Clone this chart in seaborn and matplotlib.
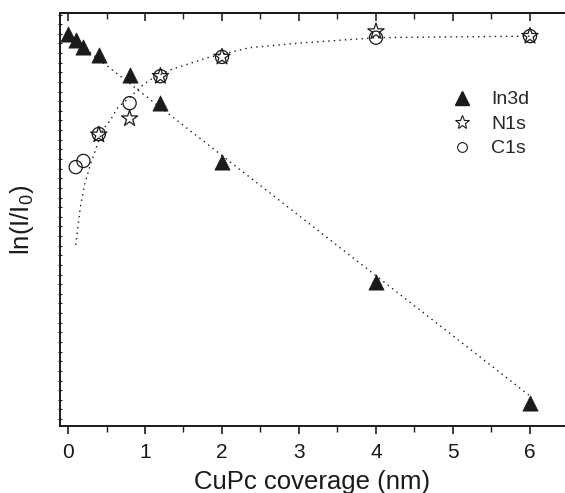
import numpy as np
import pandas as pd
import matplotlib
matplotlib.use('Agg')
import matplotlib.pyplot as plt
from matplotlib.lines import Line2D
from matplotlib.ticker import MultipleLocator, NullFormatter
import seaborn as sns

# ==========================================
# Data (arbitrary ln units)
# ==========================================
in3d_x = [0, 0.1, 0.2, 0.4, 0.8, 1.2, 2, 4, 6]
in3d_y = [0.0, -0.08, -0.17, -0.27, -0.53, -0.90, -1.66, -3.22, -4.79]

n1s_x = [0.4, 0.8, 1.2, 2, 4, 6]
n1s_y = [-1.31, -1.10, -0.55, -0.30, 0.03, -0.03]

c1s_x = [0.1, 0.2, 0.4, 0.8, 1.2, 2, 4, 6]
c1s_y = [-1.73, -1.65, -1.30, -0.90, -0.55, -0.30, -0.05, -0.03]

# dotted fit lines
in3d_fit_x = [0, 6]
in3d_fit_y = [-0.02, -4.70]

cn_fit_x = [0.10, 0.16, 0.22, 0.29, 0.38, 0.45, 0.55, 0.65, 0.81, 0.94,
            1.06, 1.32, 1.81, 2.36, 3.01, 4.01, 5.0, 6.04]
cn_fit_y = [-2.74, -2.25, -1.94, -1.70, -1.44, -1.25, -1.12, -0.95, -0.82, -0.69,
            -0.60, -0.47, -0.31, -0.18, -0.12, -0.05, -0.04, -0.03]

# ==========================================
# Style
# ==========================================
sns.set_theme(style='ticks')
plt.rcParams['font.family'] = ['Liberation Sans', 'DejaVu Sans']
plt.rcParams['mathtext.fontset'] = 'custom'
plt.rcParams['mathtext.rm'] = 'Liberation Sans'
plt.rcParams['mathtext.it'] = 'Liberation Sans:italic'

fig = plt.figure(figsize=(5.65, 4.93), dpi=100)
ax = fig.add_axes([60 / 565, 67 / 493, 1 - 60 / 565, (426 - 13) / 493])

ink = '#1a1a1a'

# fit lines
sns.lineplot(x=in3d_fit_x, y=in3d_fit_y, ax=ax, color=ink, linestyle=(0, (1, 3)),
             linewidth=1.0, sort=False)
sns.lineplot(x=cn_fit_x, y=cn_fit_y, ax=ax, color=ink, linestyle=(0, (1, 3)),
             linewidth=1.0, sort=False)

# markers
sns.scatterplot(x=c1s_x, y=c1s_y, ax=ax, marker='o', s=90, facecolor='none',
                edgecolor=ink, linewidth=0.9, zorder=3)
sns.scatterplot(x=n1s_x, y=n1s_y, ax=ax, marker='*', s=150, facecolor='none',
                edgecolor=ink, linewidth=0.9, zorder=4)
sns.scatterplot(x=in3d_x, y=in3d_y, ax=ax, marker='^', s=120, color=ink,
                edgecolor=ink, linewidth=0.5, zorder=5)

# ==========================================
# Axes
# ==========================================
ax.set_xlim(-0.104, 6.455)
ax.set_ylim(-5.09, 0.27)
ax.spines['right'].set_visible(False)
for s in ['left', 'bottom', 'top']:
    ax.spines[s].set_linewidth(1.4)
    ax.spines[s].set_color(ink)

ax.xaxis.set_major_locator(MultipleLocator(1))
ax.xaxis.set_minor_locator(MultipleLocator(0.5))
ax.tick_params(axis='x', which='major', direction='out', length=6, width=1.2,
               labelsize=15, pad=6, colors=ink)
ax.tick_params(axis='x', which='minor', direction='out', length=4, width=1.0, colors=ink)

top = ax.secondary_xaxis('top')
top.xaxis.set_major_locator(MultipleLocator(1))
top.xaxis.set_minor_locator(MultipleLocator(0.5))
top.tick_params(which='major', direction='in', length=6, width=1.2, labeltop=False)
top.tick_params(which='minor', direction='in', length=4, width=1.0)
top.spines['top'].set_linewidth(1.4)

ax.yaxis.set_major_locator(MultipleLocator(1))
ax.yaxis.set_minor_locator(MultipleLocator(0.125))
ax.yaxis.set_major_formatter(NullFormatter())
ax.tick_params(axis='y', which='both', direction='inout', length=3, width=0.8, colors=ink)

ax.set_xlabel('CuPc coverage (nm)', fontsize=18.5, color=ink, labelpad=6)
ax.set_ylabel(r'ln(I/I$_\mathrm{0}$)', fontsize=18.5, color=ink, labelpad=12)

handles = [
    Line2D([], [], marker='^', color=ink, linestyle='none', markersize=10),
    Line2D([], [], marker='*', markerfacecolor='none', markeredgecolor=ink,
           linestyle='none', markersize=10, markeredgewidth=0.8),
    Line2D([], [], marker='o', markerfacecolor='none', markeredgecolor=ink,
           linestyle='none', markersize=7, markeredgewidth=0.8),
]
ax.legend(handles, ['In3d', 'N1s', 'C1s'], loc='upper left',
          bbox_to_anchor=(0.738, 0.835), frameon=False, fontsize=14,
          handletextpad=0.5, labelspacing=0.35, borderpad=0)

fig.savefig('out.png', dpi=100)
